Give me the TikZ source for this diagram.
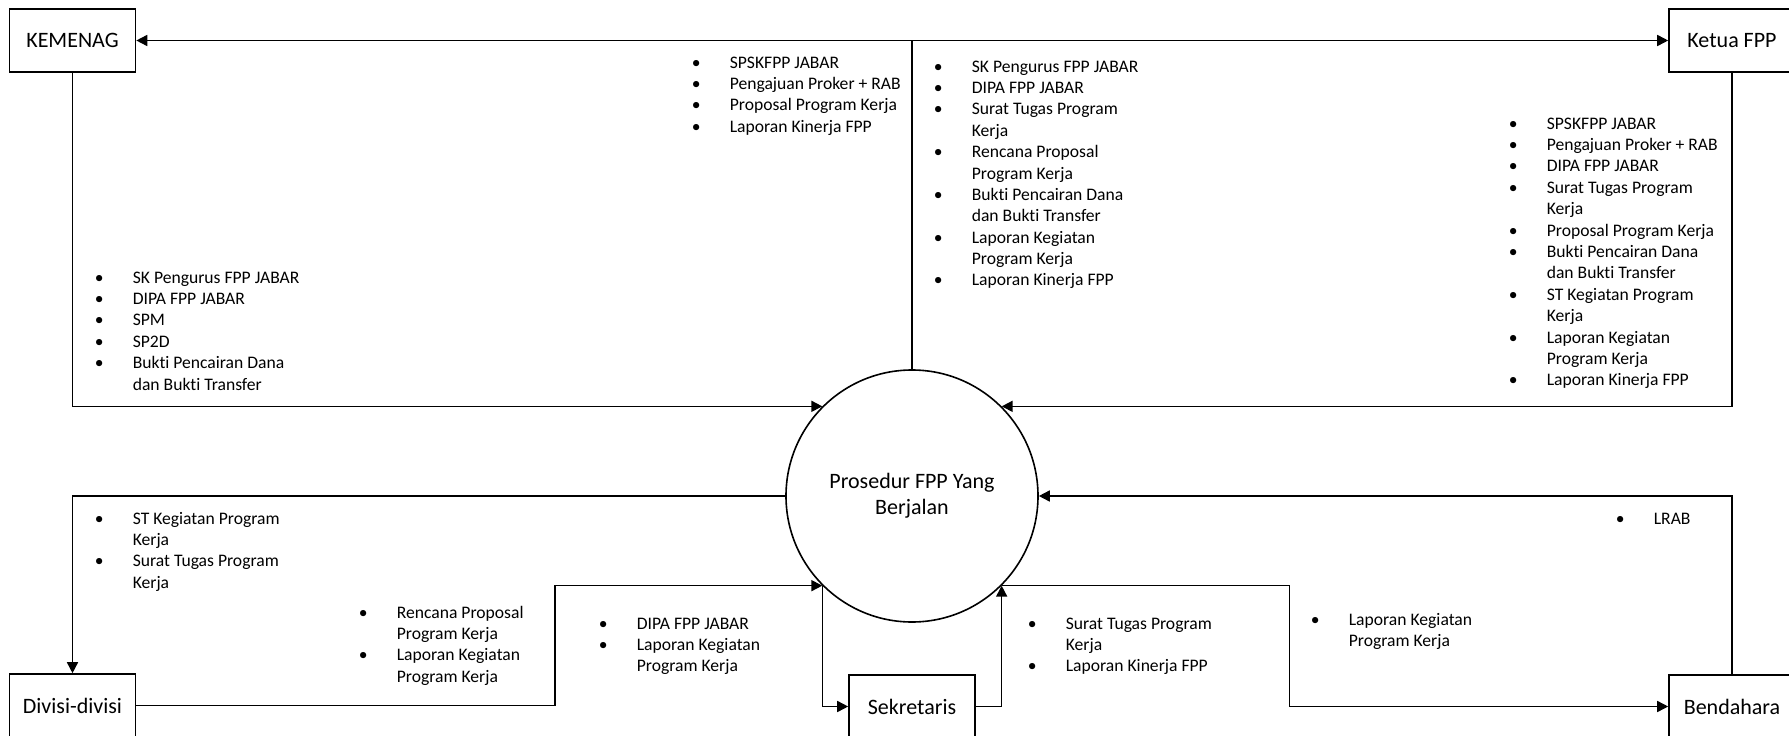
\documentclass[tikz,border=0pt]{standalone}
\usepackage{fontspec}
\setmainfont{Carlito}[Ligatures=NoCommon]
\usetikzlibrary{arrows.meta}
% bulleted list set as a two-column table: bullet, then the item text
\newcommand{\bulletlist}[1]{\begin{tabular}[t]{@{}p{38pt}@{}l@{}}#1\end{tabular}}
\newcommand{\bu}{\textbullet}
\begin{document}
\begin{tikzpicture}[x=1pt,y=-1pt,
  line width=1.6pt,
  entity/.style={draw, minimum width=126pt, minimum height=63pt, inner sep=0pt,
    font=\fontsize{22}{26}\selectfont},
  proc/.style={draw, circle, minimum size=252pt, inner sep=0pt,
    font=\fontsize{22}{26}\selectfont},
  lst/.style={inner sep=0pt, anchor=base west, font=\fontsize{17.6}{21.4}\selectfont},
  flow/.style={-{Triangle[length=11pt,width=11pt]}},
  twoway/.style={{Triangle[length=11pt,width=11pt]}-{Triangle[length=11pt,width=11pt]}}]
\useasboundingbox (0,0) rectangle (1789,736);

% external entities and the process
\node[entity] (kemenag) at (72.5,40.5) {KEMENAG};
\node[entity] (ketua) at (1732,40.5) {Ketua FPP};
\node[entity] (divisi) at (72.5,705.5) {Divisi-divisi};
\node[entity] (sekretaris) at (912,706.5) {Sekretaris};
\node[entity] (bendahara) at (1732,706.5) {Bendahara};
\node[proc] (proc) at (912,496)
  {\raisebox{-7pt}{\begin{tabular}{@{}c@{}}Prosedur FPP Yang\\Berjalan\end{tabular}}};

% data flows
\coordinate (jtop) at (912,40.5);
\draw[twoway] (kemenag) -- (ketua);
\draw (jtop) -- (proc.north);
\draw[flow] (kemenag.south) |- (proc.135);
\draw[flow] (ketua.south) |- (proc.45);
\draw[flow] (proc.west) -| (divisi.north);
\draw[flow] (bendahara.north) |- (proc.east);
\draw[flow] (divisi.east) -- ++(418.5,0) |- (proc.225);
\draw[flow] (proc.225) |- (sekretaris.west);
\draw[flow] (sekretaris.east) -| (proc.315);
\draw[flow] (proc.315) -- ++(288,0) |- (bendahara.west);

% flow labels
\node[lst] (l1) at (94,283) {\bulletlist{
  \bu & SK Pengurus FPP JABAR\\
  \bu & DIPA FPP JABAR\\
  \bu & SPM\\
  \bu & SP2D\\
  \bu & Bukti Pencairan Dana\\
      & dan Bukti Transfer}};
\node[lst] (l2) at (691,68) {\bulletlist{
  \bu & SPSKFPP JABAR\\
  \bu & Pengajuan Proker + RAB\\
  \bu & Proposal Program Kerja\\
  \bu & Laporan Kinerja FPP}};
\node[lst] (l3) at (933,72) {\bulletlist{
  \bu & SK Pengurus FPP JABAR\\
  \bu & DIPA FPP JABAR\\
  \bu & Surat Tugas Program\\
      & Kerja\\
  \bu & Rencana Proposal\\
      & Program Kerja\\
  \bu & Bukti Pencairan Dana\\
      & dan Bukti Transfer\\
  \bu & Laporan Kegiatan\\
      & Program Kerja\\
  \bu & Laporan Kinerja FPP}};
\node[lst] (l4) at (1508,129) {\bulletlist{
  \bu & SPSKFPP JABAR\\
  \bu & Pengajuan Proker + RAB\\
  \bu & DIPA FPP JABAR\\
  \bu & Surat Tugas Program\\
      & Kerja\\
  \bu & Proposal Program Kerja\\
  \bu & Bukti Pencairan Dana\\
      & dan Bukti Transfer\\
  \bu & ST Kegiatan Program\\
      & Kerja\\
  \bu & Laporan Kegiatan\\
      & Program Kerja\\
  \bu & Laporan Kinerja FPP}};
\node[lst] (l5) at (94,524) {\bulletlist{
  \bu & ST Kegiatan Program\\
      & Kerja\\
  \bu & Surat Tugas Program\\
      & Kerja}};
\node[lst] (l6) at (358,618) {\bulletlist{
  \bu & Rencana Proposal\\
      & Program Kerja\\
  \bu & Laporan Kegiatan\\
      & Program Kerja}};
\node[lst] (l7) at (598,629) {\bulletlist{
  \bu & DIPA FPP JABAR\\
  \bu & Laporan Kegiatan\\
      & Program Kerja}};
\node[lst] (l8) at (1027,629) {\bulletlist{
  \bu & Surat Tugas Program\\
      & Kerja\\
  \bu & Laporan Kinerja FPP}};
\node[lst] (l9) at (1615,524) {\bulletlist{
  \bu & LRAB}};
\node[lst] (l10) at (1310,625) {\bulletlist{
  \bu & Laporan Kegiatan\\
      & Program Kerja}};
\end{tikzpicture}
\end{document}
